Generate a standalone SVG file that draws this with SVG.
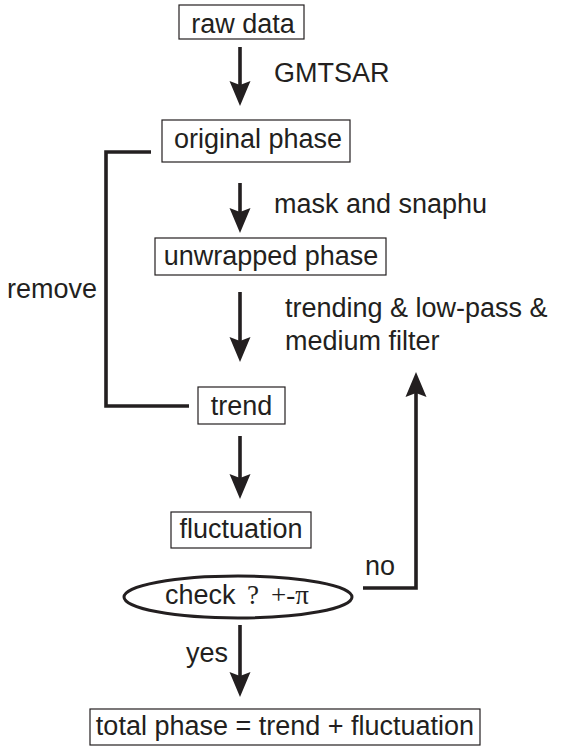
<svg xmlns="http://www.w3.org/2000/svg" width="564" height="746" viewBox="0 0 564 746">
<style>
.box{fill:#fff;stroke:#231f20;stroke-width:1.2}
.t{font-family:"Liberation Sans",Arial,Helvetica,sans-serif;font-size:27px;fill:#231f20}
.m{text-anchor:middle}
.ln{fill:none;stroke:#231f20;stroke-width:3.6}
.sym{font-family:"Liberation Serif","Times New Roman",serif;font-size:27px;fill:#231f20}
</style>
<defs>
<marker id="ah" markerUnits="userSpaceOnUse" markerWidth="28" markerHeight="24" viewBox="-26 -12 28 24" refX="-12" refY="0" orient="auto">
<path d="M0,0 L-25,-10.5 L-21,0 L-25,10.5 Z" fill="#231f20"/>
</marker>
</defs>
<g id="connectors">
<line class="ln" x1="240" y1="47" x2="240" y2="94" marker-end="url(#ah)"/>
<line class="ln" x1="240" y1="183" x2="240" y2="221" marker-end="url(#ah)"/>
<line class="ln" x1="240" y1="292" x2="240" y2="350" marker-end="url(#ah)"/>
<line class="ln" x1="240" y1="436" x2="240" y2="487" marker-end="url(#ah)"/>
<line class="ln" x1="240" y1="625" x2="240" y2="685" marker-end="url(#ah)"/>
<polyline class="ln" points="151,152 106,152 106,406 189,406"/>
<polyline class="ln" points="363,588 416,588 416,384" marker-end="url(#ah)"/>
<text class="t" x="274" y="82">GMTSAR</text>
<text class="t" x="274" y="213">mask and snaphu</text>
<text class="t" x="285" y="317">trending &amp; low-pass &amp;</text>
<text class="t" x="285" y="350">medium filter</text>
<text class="t" x="7" y="298">remove</text>
<text class="t" x="365" y="575">no</text>
<text class="t" x="186" y="662">yes</text>
</g>
<g id="raw-data">
<rect class="box" x="179" y="5" width="125" height="34"/>
<text class="t m" x="243" y="33">raw data</text>
</g>
<g id="original-phase">
<rect class="box" x="162" y="120" width="188" height="42"/>
<text class="t m" x="258" y="148">original phase</text>
</g>
<g id="unwrapped-phase">
<rect class="box" x="155" y="238" width="231" height="37"/>
<text class="t m" x="271" y="265">unwrapped phase</text>
</g>
<g id="trend">
<rect class="box" x="198" y="387" width="87" height="37"/>
<text class="t m" x="241.5" y="415">trend</text>
</g>
<g id="fluctuation">
<rect class="box" x="171" y="512" width="140" height="36"/>
<text class="t m" x="241" y="538">fluctuation</text>
</g>
<g id="check">
<ellipse cx="238" cy="597" rx="114" ry="21" fill="#fff" stroke="#231f20" stroke-width="3"/>
<text class="t" x="165" y="604">check</text>
<text class="sym" x="247" y="604">?</text>
<text class="sym" x="271" y="604">+-π</text>
</g>
<g id="total-phase">
<rect class="box" x="90" y="709" width="390" height="36"/>
<text class="t m" x="285" y="735">total phase = trend + fluctuation</text>
</g>
</svg>
